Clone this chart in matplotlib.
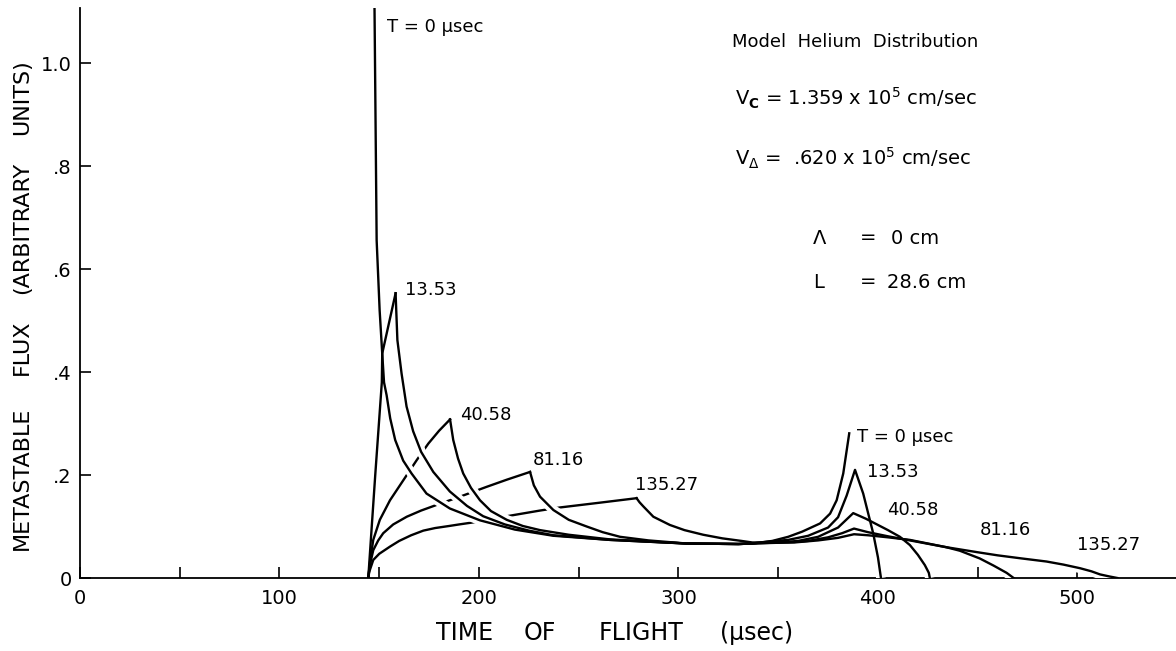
import numpy as np
import matplotlib.pyplot as plt

# gate widths T (usec) labelling each computed curve
gate_labels = ['T = 0 μsec', '13.53', '40.58', '81.16', '135.27']

# time of flight (usec) and metastable flux (arb. units) for each gate width
time_0 = [147.6, 148.7, 150.2, 151.5, 152.4, 153.7, 155.5, 158.0, 162.0, 166.2, 173.7,
          185.4, 200.5, 218.0, 237.3, 265.6, 304.0, 330.0, 337.0, 347.0, 355.0, 362.0,
          371.0, 376.0, 379.3, 382.6, 385.6]
flux_0 = [1.12, 0.656, 0.52, 0.436, 0.38, 0.355, 0.31, 0.268, 0.228, 0.203, 0.164,
          0.135, 0.112, 0.094, 0.082, 0.074, 0.067, 0.066, 0.067, 0.072, 0.080, 0.090,
          0.106, 0.125, 0.151, 0.203, 0.281]

time_13 = [144.5, 148.0, 151.3, 151.5, 158.2, 159.1, 161.2, 163.7, 167.0, 171.0, 177.1,
           185.4, 194.0, 202.1, 213.0, 225.0, 237.3, 265.6, 304.0, 330.0, 337.0, 346.0,
           355.0, 365.0, 375.0, 380.0, 384.3, 388.5, 392.6, 397.6, 400.0, 401.5]
flux_13 = [0.0, 0.20, 0.38, 0.436, 0.553, 0.462, 0.397, 0.333, 0.285, 0.245, 0.206,
           0.168, 0.140, 0.120, 0.104, 0.092, 0.083, 0.074, 0.067, 0.066, 0.067, 0.071,
           0.074, 0.082, 0.098, 0.118, 0.160, 0.210, 0.164, 0.087, 0.040, 0.0]

time_40 = [144.5, 145.5, 147.0, 150.3, 155.4, 162.1, 168.8, 174.6, 180.0, 185.5, 187.1,
           189.5, 192.1, 196.0, 200.5, 206.0, 213.9, 222.0, 230.6, 245.0, 265.6, 304.0,
           330.0, 337.0, 350.0, 360.0, 370.0, 380.0, 387.6, 394.0, 399.0, 405.0, 411.0,
           416.0, 420.0, 423.5, 425.5, 426.0]
flux_40 = [0.0, 0.035, 0.074, 0.113, 0.151, 0.19, 0.229, 0.261, 0.286, 0.308, 0.268,
           0.232, 0.203, 0.175, 0.151, 0.130, 0.113, 0.101, 0.093, 0.084, 0.075, 0.067,
           0.066, 0.067, 0.069, 0.072, 0.080, 0.098, 0.126, 0.115, 0.105, 0.093, 0.080,
           0.064, 0.045, 0.025, 0.010, 0.0]

time_81 = [144.5, 145.3, 147.0, 149.5, 152.0, 157.0, 163.8, 171.0, 178.8, 190.5, 203.8,
           214.0, 225.6, 227.5, 230.6, 237.3, 245.0, 254.0, 262.0, 270.7, 285.0, 304.0,
           330.0, 337.0, 355.0, 365.0, 375.0, 382.0, 388.0, 395.0, 405.0, 416.0, 434.0,
           441.0, 451.0, 458.0, 464.5, 468.0]
flux_81 = [0.0, 0.025, 0.054, 0.073, 0.087, 0.104, 0.119, 0.131, 0.142, 0.158, 0.177,
           0.191, 0.206, 0.180, 0.158, 0.132, 0.113, 0.100, 0.089, 0.080, 0.073, 0.067,
           0.066, 0.067, 0.069, 0.072, 0.079, 0.087, 0.096, 0.089, 0.081, 0.073, 0.060,
           0.053, 0.038, 0.024, 0.010, 0.0]

time_135 = [144.5, 145.0, 147.0, 150.0, 155.4, 160.0, 166.0, 172.1, 178.0, 185.0, 190.0,
            197.1, 214.0, 230.6, 240.6, 260.0, 279.0, 280.5, 282.4, 287.4, 295.7, 303.0,
            312.4, 322.0, 331.6, 337.0, 350.0, 358.0, 370.0, 380.0, 388.0, 395.0, 405.0,
            416.0, 434.0, 450.0, 460.0, 472.0, 484.5, 493.0, 501.3, 507.0, 511.3, 516.0,
            520.0]
flux_135 = [0.0, 0.012, 0.035, 0.047, 0.061, 0.072, 0.083, 0.092, 0.097, 0.101, 0.104,
            0.108, 0.120, 0.131, 0.137, 0.146, 0.155, 0.147, 0.139, 0.119, 0.103, 0.093,
            0.084, 0.077, 0.072, 0.069, 0.069, 0.069, 0.073, 0.078, 0.085, 0.083, 0.079,
            0.074, 0.060, 0.050, 0.044, 0.038, 0.032, 0.026, 0.019, 0.013, 0.007, 0.003,
            0.0]

curves = [(time_0, flux_0), (time_13, flux_13), (time_40, flux_40),
          (time_81, flux_81), (time_135, flux_135)]

# where the gate labels sit, first arrival group and second group
label_x1 = [154.0, 162.9, 190.5, 227.2, 278.2]
label_y1 = [1.07, 0.559, 0.316, 0.229, 0.181]
label_x2 = [389.3, 394.3, 404.4, 451.1, 499.6]
label_y2 = [0.274, 0.206, 0.132, 0.093, 0.064]

fig = plt.figure(figsize=(11.76, 6.51), dpi=100)
ax = fig.add_axes([80 / 1176, 73 / 651, 1 - 80 / 1176, 570 / 651])

lw = 1.7
for k, (t, f) in enumerate(curves):
    t = np.asarray(t)
    f = np.asarray(f)
    ip = int(np.argmax(np.where(t < 300, f, -1.0)))
    # rising edges of the slower gates run under the white halo of the faster
    # tails, so they come out broken where the curves cross
    z_rise = 21 - 2 * k if k >= 2 else 30
    ax.plot(t[:ip + 1], f[:ip + 1], color='black', lw=lw, zorder=z_rise)
    ax.plot(t[ip:], f[ip:], color='white', lw=7, zorder=20 - 2 * k, solid_capstyle='butt')
    ax.plot(t[ip:], f[ip:], color='black', lw=lw, zorder=30)

for k, lab in enumerate(gate_labels):
    ax.text(label_x1[k], label_y1[k], lab, fontsize=13, va='center', ha='left')
    ax.text(label_x2[k], label_y2[k], lab, fontsize=13, va='center', ha='left')

ax.set_xlim(0, 549.4)
ax.set_ylim(0, 1.107)
ax.spines['top'].set_visible(False)
ax.spines['right'].set_visible(False)
for s in ['left', 'bottom']:
    ax.spines[s].set_linewidth(1.3)

ax.set_xticks(np.arange(0, 501, 100))
ax.set_xticks(np.arange(50, 501, 100), minor=True)
ax.set_yticks([0, 0.2, 0.4, 0.6, 0.8, 1.0])
ax.set_yticklabels(['0', '.2', '.4', '.6', '.8', '1.0'])
ax.tick_params(axis='both', which='both', direction='in', length=8, width=1.2,
               labelsize=14)
ax.tick_params(axis='x', which='major', pad=8)
ax.tick_params(axis='y', pad=6)

# axis titles, word by word with wide spacing
for word, yc in [('METASTABLE', 478), ('FLUX', 347), ('(ARBITRARY', 228), ('UNITS)', 97)]:
    fig.text(22 / 1176, 1 - yc / 651, word, rotation=90, fontsize=16,
             ha='center', va='center')
for word, xc in [('TIME', 465), ('OF', 540), ('FLIGHT', 641), ('(μsec)', 757)]:
    fig.text(xc / 1176, 1 - 633 / 651, word, fontsize=17, ha='center', va='center')

# model parameters
fig.text(732 / 1176, 1 - 42 / 651, 'Model  Helium  Distribution', fontsize=13,
         va='center')
fig.text(735 / 1176, 1 - 98 / 651, '$\\mathrm{V}_\\mathbf{C}$ = 1.359 x 10$^5$ cm/sec',
         fontsize=14, va='center')
fig.text(735 / 1176, 1 - 158 / 651, '$\\mathrm{V}_\\Delta$ =  .620 x 10$^5$ cm/sec',
         fontsize=14, va='center')
fig.text(813 / 1176, 1 - 238 / 651, 'Λ', fontsize=14, va='center')
fig.text(860 / 1176, 1 - 238 / 651, '=', fontsize=14, va='center')
fig.text(891 / 1176, 1 - 238 / 651, '0 cm', fontsize=14, va='center')
fig.text(813 / 1176, 1 - 282 / 651, 'L', fontsize=14, va='center')
fig.text(860 / 1176, 1 - 282 / 651, '=', fontsize=14, va='center')
fig.text(887 / 1176, 1 - 282 / 651, '28.6 cm', fontsize=14, va='center')

fig.savefig('out.png', dpi=100)
